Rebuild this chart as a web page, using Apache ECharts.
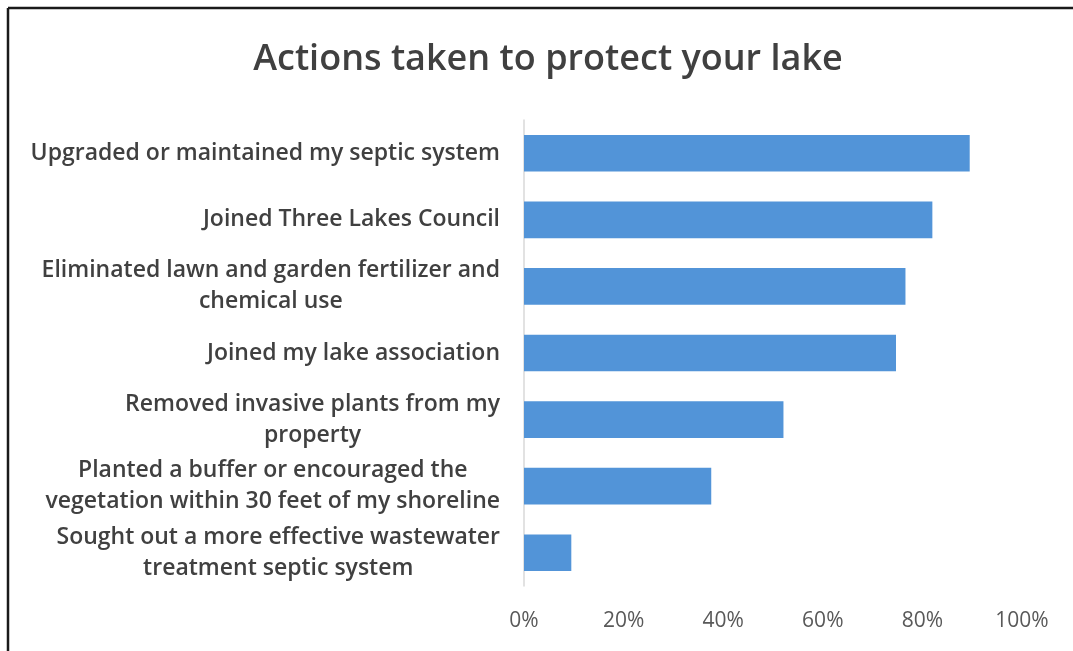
<!DOCTYPE html>
<html>
<head>
<meta charset="utf-8">
<script src="https://cdn.jsdelivr.net/npm/echarts@6/dist/echarts.min.js"></script>
<style>
html,body{margin:0;padding:0;background:#fff;}
#c{width:1073px;height:651px;}
</style>
</head>
<body>
<div id="c"></div>
<script>
var titleText = 'Actions taken to protect your lake';
var categories = [
  'Upgraded or maintained my septic system',
  'Joined Three Lakes Council',
  'Eliminated lawn and garden fertilizer and\nchemical use',
  'Joined my lake association',
  'Removed invasive plants from my\nproperty',
  'Planted a buffer or encouraged the\nvegetation within 30 feet of my shoreline',
  'Sought out a more effective wastewater\ntreatment septic system'
];
var values = [89.5, 82.0, 76.6, 74.7, 52.1, 37.6, 9.5];
var tickValues = [0, 20, 40, 60, 80, 100];

var FONT = '"Open Sans", "Noto Sans", sans-serif';
var rich = {};
categories.forEach(function (c, i) {
  rich['c' + i] = { align: 'center', fontSize: 23, fontWeight: 600, fontFamily: FONT, color: '#404040', lineHeight: 31 };
});

var chart = echarts.init(document.getElementById('c'));
chart.setOption({
  backgroundColor: '#ffffff',
  animation: false,
  title: {
    text: titleText,
    left: 543,
    top: 37,
    textAlign: 'center',
    textStyle: { fontFamily: FONT, fontSize: 36, fontWeight: 600, color: '#404040' }
  },
  graphic: [
    { type: 'line', shape: { x1: 8, y1: 8, x2: 1073, y2: 8 }, style: { stroke: '#1a1a1a', lineWidth: 2.5 } },
    { type: 'line', shape: { x1: 8, y1: 8, x2: 8, y2: 651 }, style: { stroke: '#1a1a1a', lineWidth: 2.5 } }
  ],
  grid: { left: 524, right: 51, top: 120, bottom: 65, containLabel: false },
  xAxis: {
    type: 'value',
    min: 0,
    max: 100,
    interval: 20,
    axisLine: { show: false },
    axisTick: { show: false },
    splitLine: { show: false },
    axisLabel: {
      margin: 25,
      fontFamily: FONT,
      fontSize: 21,
      color: '#595959',
      formatter: function (v) { return tickValues.indexOf(v) >= 0 ? v + '%' : ''; }
    }
  },
  yAxis: {
    type: 'category',
    inverse: true,
    data: categories,
    axisLine: { show: true, lineStyle: { color: '#d9d9d9', width: 1.5 } },
    axisTick: { show: false },
    axisLabel: {
      margin: 24,
      align: 'right',
      fontFamily: FONT,
      fontSize: 23,
      fontWeight: 600,
      color: '#404040',
      lineHeight: 31,
      rich: rich,
      formatter: function (v, idx) {
        return v.split('\n').map(function (l) { return '{c' + idx + '|' + l + '}'; }).join('\n');
      }
    }
  },
  series: [{
    type: 'bar',
    data: values,
    barCategoryGap: '45%',
    itemStyle: { color: '#5294d8' }
  }]
});
</script>
</body>
</html>
